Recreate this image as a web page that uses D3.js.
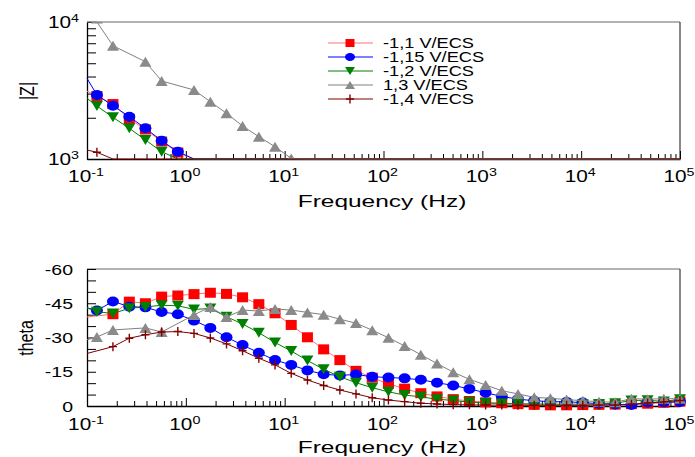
<!DOCTYPE html>
<html>
<head>
<meta charset="utf-8">
<script src="https://cdn.jsdelivr.net/npm/d3@7"></script>
<style>
  body { margin: 0; background: #fff; }
  svg { display: block; }
  text { font-family: "Liberation Sans", Arial, sans-serif; fill: #000; }
</style>
</head>
<body>
<svg id="chart" width="695" height="457"></svg>
<script>
// Sampled frequencies (Hz), low to high
const frequencies = [0.126, 0.183, 0.268, 0.390, 0.569, 0.830, 1.21, 1.77, 2.58, 3.75,
  5.48, 7.99, 11.65, 17.0, 24.8, 36.2, 52.7, 76.9, 112.2, 163.6,
  238.6, 347.9, 507.6, 740, 1080, 1574, 2296, 3349, 4884, 7122,
  10390, 15150, 22100, 32240, 47000, 68570, 100000];

const seriesNames = ["-1,1 V/ECS", "-1,15 V/ECS", "-1,2 V/ECS", "1,3 V/ECS", "-1,4 V/ECS"];

// |Z| (ohm) per potential
const modulusA = [2884, 2518, 1959, 1642, 1342, 1115, 900, 800, 670, 560, 470, 400, 340, 290, 255, 225, 200, 185, 172, 163,
  156, 151, 147, 144, 142, 140, 139, 138, 137, 137, 136, 136, 135, 135, 135, 135, 135];
const modulusB = [2931, 2449, 2036, 1675, 1360, 1131, 900, 810, 690, 590, 500, 430, 370, 320, 280, 250, 225, 205, 188, 175,
  165, 158, 152, 148, 145, 143, 141, 140, 139, 138, 138, 137, 137, 137, 136, 136, 136];
const modulusC = [2437, 2014, 1675, 1377, 1131, 880, 760, 640, 540, 460, 390, 335, 290, 255, 225, 200, 182, 168, 158, 150,
  145, 141, 138, 136, 135, 134, 133, 133, 132, 132, 132, 131, 131, 131, 131, 131, 131];
const modulusD = [10600, 6714, null, 5130, 3710, null, 3190, 2620, 2155, 1741, 1455, 1230, 1010, 850, 720, 610, 520, 445, 385, 335,
  295, 262, 236, 215, 198, 186, 177, 170, 165, 161, 158, 156, 155, 154, 153, 153, 152];
const modulusE = [1119, 900, 780, 640, 520, 425, 350, 290, 240, 200, 170, 148, 130, 117, 107, 100, 95, 91, 88, 86,
  85, 84, 83, 83, 82, 82, 82, 82, 81, 81, 81, 81, 81, 81, 81, 81, 81];
// |Z| where each trace meets the 0.1 Hz edge
const modulusEdge = [3131, 3882, 2773, 12000, 1163];

// Phase angle (degrees) per potential
const phaseA = [null, -40.2, -45.7, -45.0, -47.9, -48.4, -49.0, -49.6, -49.1, -47.6, -44.6, -40.6, -35.5, -30.1, -24.8, -20.1,
  -15.4, -12.4, -9.7, -7.6, -5.6, -4.2, -3.0, -2.2, -1.6, -1.2, -0.8, -0.5, -0.3, -0.3, -0.4, -0.5, -0.6, -0.8, -1.0, -1.4, -1.9];
const phaseB = [-41.8, -45.8, -43.5, -43.2, -41.2, -40.2, -37.4, -34.2, -30.1, -26.7, -23.3, -20.1, -18.0, -15.6, -13.9, -13.4,
  -13.8, -12.8, -12.5, -12.1, -11.5, -10.2, -9.0, -7.5, -5.8, -4.2, -3.0, -2.3, -1.9, -1.8, -1.5, -1.0, -0.7, -0.4, -1.5, -1.6, -1.8];
const phaseC = [-41.3, -40.5, -42.8, -43.4, -44.1, -43.9, -42.3, -42.7, -39.1, -35.9, -32.1, -27.8, -24.1, -19.9, -16.1, -12.8,
  -10.2, -8.0, -6.2, -4.8, -4.0, -3.0, -2.4, -1.7, -1.3, -1.1, -1.0, -0.9, -0.8, -0.8, -0.8, -0.9, -1.2, -2.4, -2.5, -2.0, -3.0];
const phaseD = [-30.2, -33.3, null, -34.2, -32.4, null, -39.9, -43.4, -39.0, -42.0, -41.6, -42.5, -42.0, -41.0, -40.0, -38.0,
  -36.3, -33.2, -29.9, -26.3, -22.5, -18.6, -14.8, -11.7, -9.2, -6.7, -5.3, -3.8, -3.4, -2.8, -2.3, -1.9, -1.6, -3.2, -3.0, -3.2, -3.2];
const phaseE = [null, -26.0, -29.7, -31.2, -32.4, -32.6, -31.8, -29.8, -27.2, -24.2, -20.9, -18.0, -14.3, -11.4, -9.0, -7.0,
  -5.3, -3.6, -2.6, -1.9, -1.2, -0.9, -0.6, -0.5, -0.4, -0.4, -0.3, -0.3, -0.3, -0.3, -0.3, -0.4, -0.4, -0.8, -1.3, -1.8, -2.4];
// Phase where each trace meets the 0.1 Hz edge
const phaseEdge = [-39.0, -43.0, -43.0, -29.0, -23.0];

// Axis ticks
const frequencyExponents = ["-1", "0", "1", "2", "3", "4", "5"];
const modulusExponents = ["3", "4"];
const phaseTicks = ["0", "-15", "-30", "-45", "-60"];

// Styling per series
const lineColors = ["#ff7070", "#0000ff", "#008000", "#808080", "#800000"];
const markColors = ["#ff0000", "#0000ff", "#008000", "#8a8a8a", "#800000"];
const markTypes = ["square", "circle", "triangleDown", "triangleUp", "cross"];

const modulusSeries = [modulusA, modulusB, modulusC, modulusD, modulusE];
const phaseSeries = [phaseA, phaseB, phaseC, phaseD, phaseE];

const SX = 1.3; // horizontal stretch of lettering
const svg = d3.select("#chart");

const x = d3.scaleLog().domain([0.1, 1e5]).range([87, 680]);
const yZ = d3.scaleLog().domain([1000, 10000]).range([159, 22]).clamp(true);
const yZfree = d3.scaleLog().domain([1000, 10000]).range([159, 22]);
const yT = d3.scaleLinear().domain([0, -60]).range([406, 269]);

function label(parent, px, py, anchor, size, parts, opts = {}) {
  const sx = opts.sx || SX;
  const g = parent.append("g")
    .attr("transform", `translate(${px},${py}) scale(${sx},1)` + (opts.rotate ? " rotate(-90)" : ""));
  const t = g.append("text").attr("text-anchor", anchor).attr("font-size", size);
  parts.forEach(p => {
    const s = t.append("tspan").text(p.text);
    if (p.size) s.attr("font-size", p.size);
    if (p.dy) s.attr("dy", p.dy);
  });
  return t;
}

function drawMark(sel, type, color, w = 12, h = 10) {
  if (type === "square") {
    sel.append("rect").attr("x", -w / 2 + 0.5).attr("y", -h / 2).attr("width", w - 1).attr("height", h).attr("fill", color);
  } else if (type === "circle") {
    sel.append("ellipse").attr("rx", w / 2).attr("ry", h / 2).attr("fill", color);
  } else if (type === "triangleDown") {
    sel.append("path").attr("d", `M${-w / 2},${-h / 2}L${w / 2},${-h / 2}L0,${h / 2}Z`).attr("fill", color);
  } else if (type === "triangleUp") {
    sel.append("path").attr("d", `M0,${-h / 2}L${w / 2},${h / 2}L${-w / 2},${h / 2}Z`).attr("fill", color);
  } else {
    const c = 4;
    sel.append("path").attr("d", `M${-c},0H${c}M0,${-c - 0.5}V${c + 0.5}`)
      .attr("stroke", color).attr("stroke-width", 1.4).attr("fill", "none");
  }
}

function frequencyAxis(yPos, labelBase) {
  const g = svg.append("g");
  const majors = frequencyExponents.map(e => Math.pow(10, +e));
  const minors = [];
  majors.slice(0, -1).forEach(m => { for (let k = 2; k <= 9; k++) minors.push(m * k); });
  g.append("g").attr("transform", `translate(0,${yPos})`)
    .call(d3.axisBottom(x).tickValues(minors).tickSize(-5).tickSizeOuter(0).tickFormat(""))
    .call(s => s.select(".domain").remove());
  g.append("g").attr("transform", `translate(0,${yPos})`)
    .call(d3.axisBottom(x).tickValues(majors).tickSize(-8).tickSizeOuter(0).tickFormat(""))
    .call(s => s.select(".domain").attr("stroke-width", 1.3));
  g.selectAll(".tick line").attr("stroke", "#000");
  frequencyExponents.forEach(e => {
    label(svg, x(Math.pow(10, +e)) - 1, labelBase, "middle", 16,
      [{ text: "10" }, { text: e, size: 11, dy: -6 }]);
  });
}

function frame(top, bottom) {
  svg.append("line").attr("x1", 87).attr("x2", 680).attr("y1", top).attr("y2", top)
    .attr("stroke", "#9a9a9a").attr("stroke-width", 1.6);
  svg.append("line").attr("x1", 680).attr("x2", 680).attr("y1", top).attr("y2", bottom)
    .attr("stroke", "#555").attr("stroke-width", 1.4);
}

// ---------- |Z| panel ----------
frame(22, 159);
{
  const minors = [];
  for (let k = 2; k <= 9; k++) minors.push(1000 * k);
  svg.append("g").attr("transform", "translate(87,0)")
    .call(d3.axisLeft(yZ).tickValues([1000, ...minors, 10000]).tickSize(-9).tickSizeOuter(0).tickFormat(""))
    .call(s => s.select(".domain").attr("stroke-width", 1.3))
    .call(s => s.selectAll(".tick line").attr("stroke", "#000"));
  modulusExponents.forEach(e => {
    label(svg, 79, yZ(Math.pow(10, +e)) + 6, "end", 16, [{ text: "10" }, { text: e, size: 11, dy: -6 }]);
  });
}
frequencyAxis(159, 182);

svg.append("clipPath").attr("id", "clipZ").append("rect")
  .attr("x", 87).attr("y", 22).attr("width", 593).attr("height", 137);

const lineZ = d3.line().x(d => x(d.f)).y(d => yZ(d.v));
modulusSeries.forEach((vals, i) => {
  const pts = frequencies.map((f, j) => ({ f, v: vals[j] })).filter(d => d.v != null);
  const g = svg.append("g");
  g.append("path").datum([{ f: 0.1, v: modulusEdge[i] }, ...pts]).attr("d", lineZ)
    .attr("fill", "none").attr("stroke", lineColors[i]).attr("stroke-width", 1);
  const mg = g.append("g").attr("clip-path", "url(#clipZ)");
  pts.filter(d => d.v >= 930 && d.v <= 10700).forEach(d => {
    const m = mg.append("g").attr("transform", `translate(${x(d.f)},${yZfree(d.v)})`);
    drawMark(m, markTypes[i], markColors[i]);
  });
});

label(svg, 34, 91, "middle", 16, [{ text: "|Z|" }], { rotate: true });
label(svg, 382, 207, "middle", 17, [{ text: "Frequency (Hz)" }], { sx: 1.44 });

// Legend
const legendRows = [43, 57, 71, 85, 99];
seriesNames.forEach((name, i) => {
  const ly = legendRows[i];
  svg.append("line").attr("x1", 328).attr("x2", 373).attr("y1", ly).attr("y2", ly)
    .attr("stroke", lineColors[i]).attr("stroke-width", 1);
  const m = svg.append("g").attr("transform", `translate(350,${ly})`);
  drawMark(m, markTypes[i], markColors[i], 10, 8);
  label(svg, 383, ly + 5, "start", 14, [{ text: name }]);
});

// ---------- phase panel ----------
frame(269, 406);
svg.append("g").attr("transform", "translate(87,0)")
  .call(d3.axisLeft(yT).tickValues(d3.range(0, -61, -5)).tickSize(-9).tickSizeOuter(0).tickFormat(""))
  .call(s => s.select(".domain").attr("stroke-width", 1.3))
  .call(s => s.selectAll(".tick line").attr("stroke", "#000"));
phaseTicks.forEach(t => {
  label(svg, 73, yT(+t) + 5.5, "end", 15, [{ text: t }]);
});
frequencyAxis(406, 430);

const lineT = d3.line().x(d => x(d.f)).y(d => yT(d.v));
phaseSeries.forEach((vals, i) => {
  const pts = frequencies.map((f, j) => ({ f, v: vals[j] })).filter(d => d.v != null);
  const g = svg.append("g");
  g.append("path").datum([{ f: 0.1, v: phaseEdge[i] }, ...pts]).attr("d", lineT)
    .attr("fill", "none").attr("stroke", lineColors[i]).attr("stroke-width", 1);
  pts.forEach(d => {
    const m = g.append("g").attr("transform", `translate(${x(d.f)},${yT(d.v)})`);
    drawMark(m, markTypes[i], markColors[i]);
  });
});

label(svg, 33, 338, "middle", 16, [{ text: "theta" }], { rotate: true });
label(svg, 382, 453, "middle", 17, [{ text: "Frequency (Hz)" }], { sx: 1.44 });
</script>
</body>
</html>
